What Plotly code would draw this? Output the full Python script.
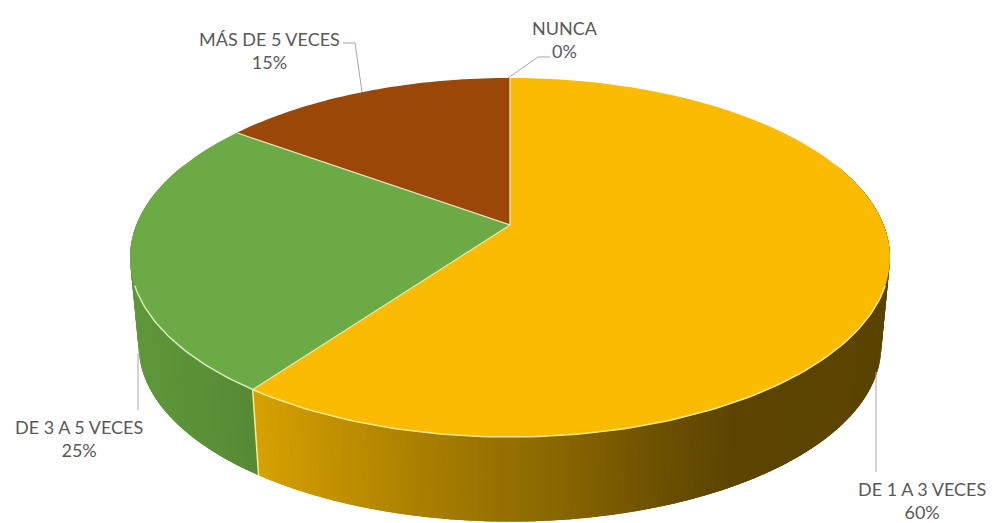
import math
import plotly.graph_objects as go

categories = ["NUNCA", "DE 1 A 3 VECES", "DE 3 A 5 VECES", "MÁS DE 5 VECES"]
values = [0, 60, 25, 15]
percent_labels = ["0%", "60%", "25%", "15%"]
top_colors = ["#5B9BD5", "#FBBB00", "#6CAA45", "#9A4708"]
rim_colors = ["#FFFFFF", "#FFE98F", "#D5EDBE", "#E8C9A8"]
side_stops = {
    1: [(250, "#D8A200"), (400, "#B08400"), (530, "#8F6C00"), (650, "#6E5200"), (730, "#5C4400"), (900, "#5A4300")],
    2: [(130, "#5E9739"), (200, "#5B9137"), (260, "#558934")],
    3: [(130, "#6E3305"), (510, "#6E3305")],
}

# projection of the tilted disc
CX, CY, SX, SY, PERSP = 510.0, 225.0, 373.7, 173.6, 0.181
BOT_SCALE, BOT_SHIFT = 0.977, 89.5


def top_point(frac):
    a = 2 * math.pi * frac
    X, Y = math.sin(a), math.cos(a)
    d = 1 + PERSP * Y
    return CX + SX * X / d, CY - SY * Y / d


def bottom_point(frac):
    x, y = top_point(frac)
    return CX + (x - CX) * BOT_SCALE, CY + (y - CY) * BOT_SCALE + BOT_SHIFT


def hex2rgb(h):
    return tuple(int(h[i:i + 2], 16) for i in (1, 3, 5))


def grad(stops, x):
    if x <= stops[0][0]:
        return stops[0][1]
    for (x0, c0), (x1, c1) in zip(stops, stops[1:]):
        if x <= x1:
            t = (x - x0) / (x1 - x0)
            a, b = hex2rgb(c0), hex2rgb(c1)
            return "rgb(%d,%d,%d)" % tuple(round(p + (q - p) * t) for p, q in zip(a, b))
    return stops[-1][1]


fig = go.Figure()
total = sum(values)
edges = [0]
for v in values:
    edges.append(edges[-1] + v / total)


def poly(xs, ys, fill):
    fig.add_trace(go.Scatter(x=xs, y=ys, mode="none", fill="toself", fillcolor=fill,
                             hoverinfo="skip", showlegend=False))


def stroke(xs, ys, color, width):
    fig.add_trace(go.Scatter(x=xs, y=ys, mode="lines", line=dict(color=color, width=width),
                             hoverinfo="skip", showlegend=False))


# side wall, back to front; neighbouring pieces overlap so no seams show
segs = []
for i in range(1, 4):
    n = max(1, round(values[i] * 4))
    w = (edges[i + 1] - edges[i]) / n
    for k in range(n):
        f0 = edges[i] + w * k
        f1 = f0 + w
        segs.append((i, f0, f1, max(edges[i], f0 - w * 0.6), min(edges[i + 1], f1 + w * 0.6)))
segs = [s for s in segs if math.cos(2 * math.pi * (s[1] + s[2]) / 2) < 0.35]
segs.sort(key=lambda s: -math.cos(2 * math.pi * (s[1] + s[2]) / 2))
for i, f0, f1, g0, g1 in segs:
    a, b = top_point(g0), top_point(g1)
    c, d = bottom_point(g1), bottom_point(g0)
    mid = top_point((f0 + f1) / 2)
    poly([a[0], b[0], c[0], d[0], a[0]], [a[1], b[1], c[1], d[1], a[1]], grad(side_stops[i], mid[0]))

# pale edge between the yellow and green walls
a, d = top_point(edges[2]), bottom_point(edges[2])
stroke([a[0], d[0]], [a[1], d[1]], "#FFE98F", 1.5)

# top wedges
for i in (1, 2, 3):
    steps = max(2, round(values[i] * 3))
    pts = [top_point(edges[i] + (edges[i + 1] - edges[i]) * k / steps) for k in range(steps + 1)]
    xs = [CX] + [p[0] for p in pts] + [CX]
    ys = [CY] + [p[1] for p in pts] + [CY]
    poly(xs, ys, top_colors[i])

# rims: front arc of the disc and the radial edges
for i in (1, 2):
    steps = max(2, round(values[i] * 3))
    pts = [top_point(edges[i] + (edges[i + 1] - edges[i]) * k / steps) for k in range(steps + 1)]
    pts = [p for p in pts if p[1] > 283]
    stroke([p[0] for p in pts], [p[1] for p in pts], rim_colors[i], 1.5)
for f, col in ((edges[1], "#FFF0C8"), (edges[2], "#E6E6A0"), (edges[3], "#E8E4C0")):
    p = top_point(f)
    stroke([CX, p[0]], [CY, p[1]], col, 1.2)

# leader lines
leaders = [
    ([508, 538, 550], [78, 57, 57]),
    ([876, 876], [372, 472]),
    ([138, 138], [353, 410]),
    ([362, 355, 343], [92, 43, 43]),
]
for xs, ys in leaders:
    stroke(xs, ys, "#A6A6A6", 1)

# labels
label_pos = [(565, 39), (922, 500), (79, 438), (269, 50)]
for cat, pct, (x, y) in zip(categories, percent_labels, label_pos):
    fig.add_annotation(x=x, y=y, text=f"{cat}<br>{pct}", showarrow=False, xanchor="center", yanchor="middle",
                       font=dict(family="Lato", size=18, color="#595959"), align="center")

fig.update_layout(
    width=992, height=523, margin=dict(l=0, r=0, t=0, b=0),
    paper_bgcolor="white", plot_bgcolor="white", showlegend=False,
    xaxis=dict(range=[0, 992], visible=False, fixedrange=True),
    yaxis=dict(range=[523, 0], visible=False, fixedrange=True),
)
fig.write_html("out.html", config=dict(displayModeBar=False),
               post_script="document.body.style.margin='0';document.body.style.overflow='hidden';")
